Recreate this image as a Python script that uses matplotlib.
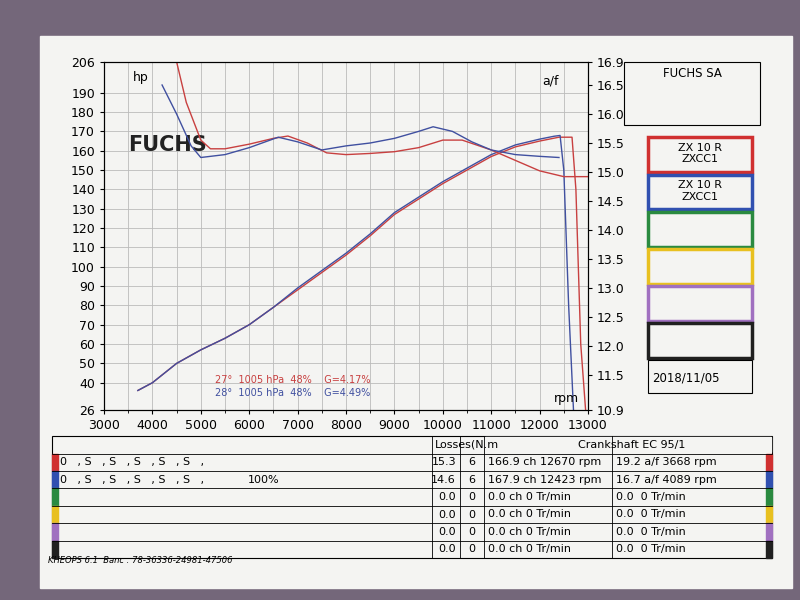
import matplotlib.pyplot as plt
from matplotlib.patches import Rectangle

# power curves (hp)
rpm_red = [3700, 4000, 4500, 5000, 5500, 6000, 6500, 7000, 7500, 8000, 8500, 9000, 9500, 10000,
           10500, 11000, 11500, 12000, 12400, 12670, 12750, 12850, 12950]
hp_red = [36, 40, 50, 57, 63, 70, 79, 88, 97, 106, 116, 127, 135, 143, 150, 157, 162, 165, 167, 167, 140, 60, 26]
rpm_blue = [3700, 4000, 4500, 5000, 5500, 6000, 6500, 7000, 7500, 8000, 8500, 9000, 9500, 10000,
            10500, 11000, 11500, 12000, 12300, 12423, 12500, 12600, 12700]
hp_blue = [36, 40, 50, 57, 63, 70, 79, 89, 98, 107, 117, 128, 136, 144, 151, 158, 163, 166, 167.5, 167.9, 150, 80, 26]

# air/fuel ratio
rpm_af_red = [4500, 4700, 5000, 5200, 5500, 6000, 6500, 6800, 7200, 7600, 8000, 8500, 9000, 9500,
              10000, 10400, 11000, 11500, 12000, 12500, 13000]
af_red = [16.9, 16.2, 15.55, 15.4, 15.4, 15.48, 15.58, 15.62, 15.5, 15.33, 15.3, 15.32, 15.35, 15.42,
          15.55, 15.55, 15.38, 15.2, 15.02, 14.92, 14.92]
rpm_af_blue = [4200, 4500, 4800, 5000, 5500, 6000, 6600, 7000, 7500, 8000, 8500, 9000, 9500, 9800,
               10200, 10600, 11000, 11500, 12000, 12400]
af_blue = [16.5, 16.0, 15.45, 15.25, 15.3, 15.42, 15.6, 15.52, 15.38, 15.45, 15.5, 15.58, 15.7, 15.78,
           15.7, 15.52, 15.38, 15.3, 15.27, 15.25]

hp_ticks = [26, 40, 50, 60, 70, 80, 90, 100, 110, 120, 130, 140, 150, 160, 170, 180, 190, 206]
af_ticks = [10.9, 11.5, 12.0, 12.5, 13.0, 13.5, 14.0, 14.5, 15.0, 15.5, 16.0, 16.5, 16.9]
rows_losses = [("15.3", "6"), ("14.6", "6"), ("0.0", "0"), ("0.0", "0"), ("0.0", "0"), ("0.0", "0")]
rows_power = ["166.9 ch 12670 rpm", "167.9 ch 12423 rpm"] + ["0.0 ch 0 Tr/min"] * 4
rows_af = ["19.2 a/f 3668 rpm", "16.7 a/f 4089 rpm"] + ["0.0  0 Tr/min"] * 4
row_colors = ['#d03030', '#3050b0', '#2a8a40', '#e8c020', '#a070c0', '#202020']

fig = plt.figure(figsize=(8, 6), dpi=100)
fig.patch.set_facecolor('#74677a')
fig.add_artist(Rectangle((0.05, 0.02), 0.94, 0.92, transform=fig.transFigure, color='#f4f4f2', zorder=0))

ax = fig.add_axes([0.13, 0.317, 0.605, 0.58])
ax.set_xlim(3000, 13000)
ax.set_ylim(26, 206)
ax.set_facecolor('#f4f4f2')
ax.set_xticks(range(3000, 13001, 1000))
ax.set_yticks(hp_ticks)
ax.set_xticks(range(3000, 13001, 500), minor=True)
ax.grid(True, which='both', color='#bbbbbb', lw=0.6)
ax.tick_params(labelsize=9, length=3)
ax.plot(rpm_red, hp_red, color='#c84040', lw=1)
ax.plot(rpm_blue, hp_blue, color='#4050a0', lw=1)
ax.text(3600, 196, 'hp', fontsize=9)
ax.text(12050, 194, 'a/f', fontsize=9)
ax.text(12300, 30, 'rpm', fontsize=9)
ax.text(3500, 160, 'FUCHS', fontsize=15, fontweight='bold', color='#222222')
ax.text(5300, 40, '27°  1005 hPa  48%    G=4.17%', fontsize=7, color='#c84040')
ax.text(5300, 33, '28°  1005 hPa  48%    G=4.49%', fontsize=7, color='#4050a0')

ax2 = ax.twinx()
ax2.set_ylim(10.9, 16.9)
ax2.set_yticks(af_ticks)
ax2.set_yticklabels([f'{t:.1f}' for t in af_ticks])
ax2.tick_params(labelsize=9, length=3)
ax2.plot(rpm_af_red, af_red, color='#c84040', lw=1)
ax2.plot(rpm_af_blue, af_blue, color='#4050a0', lw=1)

# right side boxes
fig.add_artist(Rectangle((0.78, 0.792), 0.17, 0.105, transform=fig.transFigure, fill=False, lw=0.8))
fig.text(0.865, 0.872, 'FUCHS SA', ha='center', fontsize=8.5)
bh = 0.062
for i, c in enumerate(row_colors):
    y0 = 0.775 - (i + 1) * bh
    fig.add_artist(Rectangle((0.81, y0), 0.13, bh - 0.004, transform=fig.transFigure, fill=False,
                             ec=c, lw=2.5))
    if i < 2:
        fig.text(0.875, y0 + bh / 2, 'ZX 10 R\nZXCC1', ha='center', va='center', fontsize=8)
fig.add_artist(Rectangle((0.81, 0.345), 0.13, 0.055, transform=fig.transFigure, fill=False, lw=0.8))
fig.text(0.815, 0.37, '2018/11/05', fontsize=8.5, va='center')

# bottom table
left, right = 0.065, 0.965
top, rh = 0.273, 0.029
fig.add_artist(Rectangle((left, top - 7 * rh), right - left, 7 * rh, transform=fig.transFigure,
                         fill=False, lw=0.8))
cols = [0.54, 0.575, 0.605, 0.765]
for x in cols:
    fig.add_artist(plt.Line2D([x, x], [top - 7 * rh, top], transform=fig.transFigure, color='k', lw=0.6))
for r in range(1, 7):
    fig.add_artist(plt.Line2D([left, right], [top - r * rh] * 2, transform=fig.transFigure, color='k', lw=0.6))
fig.add_artist(Rectangle((0.606, top - rh + 0.002), 0.358, rh - 0.004, transform=fig.transFigure, color='#f4f4f2'))
fig.text(0.543, top - rh / 2, 'Losses(N.m', va='center', fontsize=8)
fig.text(0.79, top - rh / 2, 'Crankshaft EC 95/1', ha='center', va='center', fontsize=8)
for i in range(6):
    yc = top - (i + 1.5) * rh
    fig.add_artist(Rectangle((left, yc - rh / 2), 0.007, rh, transform=fig.transFigure, color=row_colors[i]))
    fig.add_artist(Rectangle((right - 0.007, yc - rh / 2), 0.007, rh, transform=fig.transFigure, color=row_colors[i]))
    if i < 2:
        fig.text(0.075, yc, '0   , S   , S   , S   , S   , S   ,', va='center', fontsize=8)
    if i == 1:
        fig.text(0.31, yc, '100%', va='center', fontsize=8)
    fig.text(0.57, yc, rows_losses[i][0], ha='right', va='center', fontsize=8)
    fig.text(0.59, yc, rows_losses[i][1], ha='center', va='center', fontsize=8)
    fig.text(0.61, yc, rows_power[i], va='center', fontsize=8)
    fig.text(0.77, yc, rows_af[i], va='center', fontsize=8)
fig.text(0.06, 0.062, 'KHEOPS 6.1  Banc : 78-36336-24981-47506', fontsize=6, style='italic')

fig.savefig('out.png', dpi=100, facecolor=fig.get_facecolor())
